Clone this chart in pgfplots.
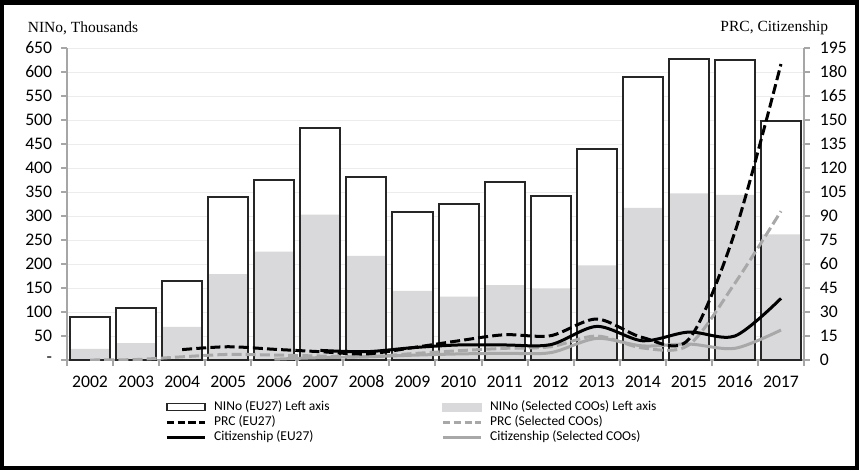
\documentclass[border=0pt]{standalone}
\usepackage{fontspec}
\setmainfont{Carlito}
\newfontfamily\seriffont{Liberation Serif}
\usepackage{pgfplots}
\usepackage{pgfplotstable}
\pgfplotsset{compat=1.18}

\definecolor{axgrey}{RGB}{166,166,166}
\definecolor{gridgrey}{RGB}{236,236,236}
\definecolor{barfill}{RGB}{217,217,219}
\definecolor{linegrey}{RGB}{168,168,168}
\definecolor{barline}{RGB}{38,38,38}

% NINo, thousands (left axis)
\pgfplotstableread{
year eu sel
2002 90 23
2003 108 35
2004 165 69
2005 340 179
2006 375 226
2007 483 303
2008 382 217
2009 308 144
2010 326 132
2011 371 156
2012 342 149
2013 440 197
2014 589 317
2015 628 347
2016 624 344
2017 497 262
}\nino

% right axis series
\pgfplotstableread{
year v
2004 6.5
2005 8.3
2006 6.7
2007 5.2
2008 3.8
2009 7.7
2010 12
2011 15.8
2012 15.2
2013 25.6
2014 14
2015 13
2016 80
2017 185
}\prceu

\pgfplotstableread{
year v
2002 0
2003 0.3
2004 2
2005 3.5
2006 3.1
2007 2.5
2008 2
2009 4
2010 5.8
2011 7.3
2012 8.3
2013 15
2014 7.5
2015 9.4
2016 48
2017 93
}\prcsel

\pgfplotstableread{
year v
2007 6
2008 5.2
2009 7.7
2010 9.4
2011 9.4
2012 9.6
2013 21
2014 12
2015 17.5
2016 15
2017 38.5
}\citeu

\pgfplotstableread{
year v
2006 0.5
2007 1.5
2008 2
2009 3
2010 3.8
2011 4.2
2012 4.6
2013 13.5
2014 8.8
2015 10
2016 7.3
2017 18.75
}\citsel

\pgfplotsset{
  base/.style={
    width=442.2pt, height=187.2pt, scale only axis,
    xmin=2001.5, xmax=2017.5,
    axis line style={-, axgrey, line width=1.2pt},
    tick style={axgrey, line width=1.2pt},
    major tick length=3.6pt, minor tick length=3.6pt,
    ticklabel style={font=\fontsize{10.6}{12}\selectfont, text=black},
  },
  mybox/.style={legend image code/.code={\draw[##1] (0pt,-2.1pt) rectangle (22.8pt,2.1pt); \path (27pt,0pt);}},
  mygreybox/.style={legend image code/.code={\fill[barfill] (-0.3pt,-2.4pt) rectangle (23.1pt,2.4pt); \path (27pt,0pt);}},
  myline/.style={legend image code/.code={\draw[##1] (0pt,0pt) -- (22.8pt,0pt); \path (27pt,0pt);}},
}

\begin{document}
\begin{tikzpicture}
\begin{axis}[base,
  ymin=0, ymax=650,
  axis y line*=left, axis x line*=bottom,
  tick align=outside,
  ytick={0,50,...,650},
  yticklabels={-,50,100,150,200,250,300,350,400,450,500,550,600,650},
  yticklabel style={xshift=-1.8pt},
  xtick={2002,2003,...,2017},
  xticklabels={2002,2003,2004,2005,2006,2007,2008,2009,2010,2011,2012,2013,2014,2015,2016,2017},
  xticklabel style={anchor=base, yshift=-12.6pt},
  minor xtick={2001.5,2002.5,...,2017.5},
  major x tick style={draw=none},
  ymajorgrids, grid style={gridgrey, line width=0.6pt},
  ybar, bar width=0.87,
]
\addplot[fill=white, draw=none, bar shift=0pt] table[x=year, y=eu]{\nino};
\addplot[fill=barfill, draw=none, bar shift=0pt] table[x=year, y=sel]{\nino};
\addplot[fill=none, draw=barline, line width=1.2pt, bar shift=0pt] table[x=year, y=eu]{\nino};
\end{axis}

\begin{axis}[base,
  ymin=0, ymax=195,
  axis y line*=right, axis x line=none,
  tick align=outside,
  ytick={0,15,...,195},
  yticklabels={0,15,30,45,60,75,90,105,120,135,150,165,180,195},
  yticklabel style={xshift=2.4pt},
  legend columns=2,
  legend cell align=left,
  legend style={at={(axis description cs:0.13297,-0.1256)}, anchor=north west,
    draw=none, fill=none, inner sep=0pt, row sep=0pt, column sep=0pt,
    font=\fontsize{8.1}{9}\selectfont,
    nodes={inner sep=0.5pt, text height=6pt, text depth=2pt}},
]
\addlegendimage{mybox, fill=white, draw=barline, line width=1pt}
\addlegendentry{\makebox[135.8pt][l]{NINo (EU27) Left axis}}
\addlegendimage{mygreybox}
\addlegendentry{NINo (Selected COOs) Left axis}
\addlegendimage{myline, black, line width=1.8pt, dash pattern=on 4.5pt off 2pt}
\addlegendentry{\makebox[135.8pt][l]{PRC (EU27)}}
\addlegendimage{myline, linegrey, line width=1.8pt, dash pattern=on 4.5pt off 2pt}
\addlegendentry{PRC (Selected COOs)}
\addlegendimage{myline, black, line width=1.8pt}
\addlegendentry{\makebox[135.8pt][l]{Citizenship (EU27)}}
\addlegendimage{myline, linegrey, line width=1.8pt}
\addlegendentry{Citizenship (Selected COOs)}

\addplot[forget plot, linegrey, line width=1.8pt, smooth] table[x=year, y=v]{\citsel};
\addplot[forget plot, linegrey, line width=1.8pt, dash pattern=on 6pt off 2.5pt, smooth] table[x=year, y=v]{\prcsel};
\addplot[forget plot, black, line width=1.8pt, smooth] table[x=year, y=v]{\citeu};
\addplot[forget plot, black, line width=1.8pt, dash pattern=on 6pt off 2.5pt, smooth] table[x=year, y=v]{\prceu};
\end{axis}

\node[anchor=west, font=\seriffont\fontsize{9.3}{11}\selectfont] at (-27pt,199.2pt) {NINo, Thousands};
\node[anchor=east, font=\seriffont\fontsize{9.3}{11}\selectfont] at (460.2pt,199.2pt) {PRC, Citizenship};
\draw[line width=2.7pt] (-38.85pt,-64.65pt) rectangle (473.85pt,214.65pt);
\end{tikzpicture}
\end{document}
